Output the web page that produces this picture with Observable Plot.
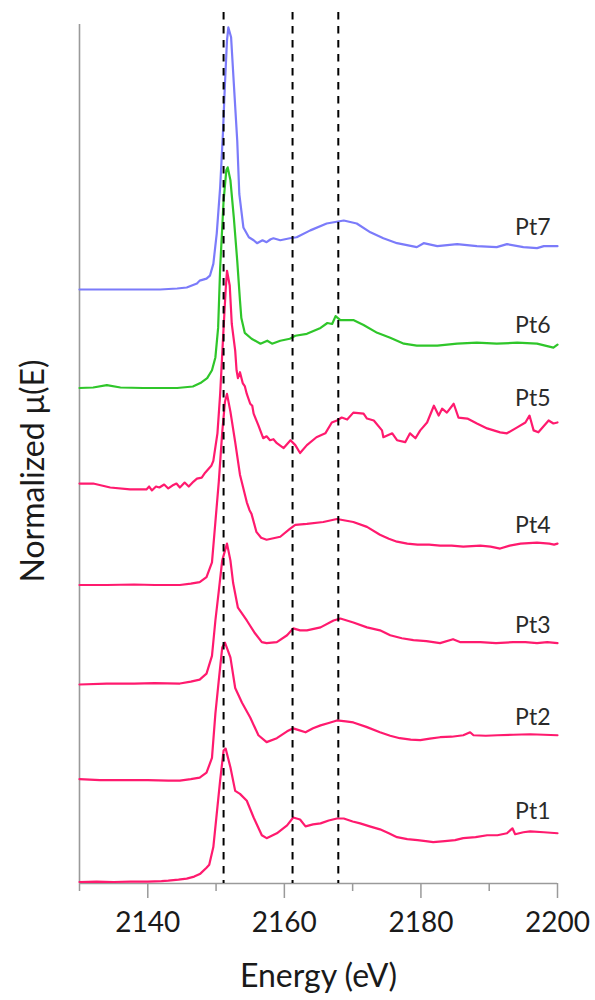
<!DOCTYPE html>
<html>
<head>
<meta charset="utf-8">
<script src="https://cdn.jsdelivr.net/npm/d3@7"></script>
<script src="https://cdn.jsdelivr.net/npm/@observablehq/plot@0.6"></script>
<style>
  body { margin: 0; background: #fff; }
  #chart { width: 595px; height: 1000px; }
</style>
</head>
<body>
<div id="chart"></div>
<script>
// Pt L-edge XANES spectra, normalized and stacked (offset of 1 between traces)
const labels = ["Pt1", "Pt2", "Pt3", "Pt4", "Pt5", "Pt6", "Pt7"];
const offsets = [0, 1, 2, 3, 4, 5, 6];

// [energy (eV), normalized mu(E)]
const pt1 = [[2130,-0.015],[2132.5,-0.01],[2135,-0.015],[2137.5,-0.01],[2140,-0.01],[2142,-0.005],[2143,0],[2144.5,0.01],[2145.7,0.02],[2146.8,0.04],[2147.7,0.07],[2148.6,0.13],[2149.0,0.16],[2149.6,0.34],[2150.1,0.68],[2150.6,1.02],[2151.1,1.32],[2151.4,1.34],[2152.1,1.15],[2152.8,0.91],[2153.5,0.88],[2154.5,0.81],[2155.5,0.64],[2156.7,0.46],[2157.4,0.43],[2158.9,0.48],[2160.4,0.56],[2161.3,0.64],[2162.3,0.62],[2163.1,0.55],[2164.2,0.57],[2165.3,0.58],[2166.5,0.61],[2167.7,0.63],[2168.7,0.63],[2170.0,0.60],[2171.1,0.58],[2172.5,0.55],[2174.0,0.52],[2175.3,0.48],[2176.5,0.44],[2178.0,0.42],[2179.5,0.41],[2180.7,0.40],[2181.8,0.39],[2183.5,0.40],[2185.0,0.41],[2186.2,0.43],[2188.0,0.44],[2189.7,0.46],[2191.2,0.46],[2192.6,0.48],[2193.4,0.53],[2193.8,0.47],[2195.0,0.49],[2196.0,0.50],[2198.0,0.49],[2200,0.48]];
const pt2 = [[2130,0.03],[2133,0.02],[2136,0.02],[2140,0.02],[2143,0.015],[2144.7,0.015],[2146.3,0.03],[2147.6,0.045],[2148.6,0.095],[2149.4,0.245],[2149.9,0.695],[2150.4,1.035],[2150.9,1.365],[2151.3,1.415],[2152.1,1.265],[2152.8,0.955],[2153.8,0.805],[2155.0,0.655],[2156.2,0.475],[2157.4,0.405],[2158.9,0.445],[2160.4,0.515],[2161.3,0.545],[2162.0,0.53],[2163.1,0.505],[2164.2,0.545],[2165.3,0.575],[2166.5,0.60],[2167.7,0.625],[2169.0,0.615],[2170.1,0.605],[2172.0,0.56],[2174.0,0.505],[2175.5,0.47],[2176.9,0.445],[2178.5,0.43],[2179.9,0.425],[2181.3,0.44],[2182.8,0.455],[2184.5,0.46],[2186.2,0.475],[2187.2,0.505],[2187.7,0.475],[2189.5,0.47],[2191.2,0.475],[2193.5,0.48],[2196.0,0.485],[2198.0,0.48],[2200,0.475]];
const pt3 = [[2130,-0.01],[2134,0],[2138,0],[2141,0.005],[2144.7,0],[2146.3,0.02],[2147.6,0.04],[2148.6,0.10],[2149.4,0.28],[2149.9,0.64],[2150.4,0.94],[2150.9,1.25],[2151.6,1.42],[2152.1,1.25],[2152.5,1.02],[2153.2,0.77],[2154.5,0.64],[2155.7,0.51],[2156.7,0.42],[2157.4,0.41],[2158.9,0.42],[2160.4,0.49],[2161.3,0.56],[2162.3,0.54],[2163.3,0.54],[2165.3,0.57],[2167.2,0.64],[2168.2,0.66],[2170.1,0.62],[2172.1,0.57],[2174.0,0.54],[2175.5,0.49],[2177.2,0.46],[2178.9,0.44],[2180.8,0.43],[2182.8,0.41],[2184.7,0.45],[2185.8,0.42],[2188.7,0.42],[2191.0,0.41],[2193.5,0.42],[2195.3,0.42],[2197.0,0.41],[2198.5,0.42],[2200,0.41]];
const pt4 = [[2130,0],[2134,0],[2138,0.005],[2141,0],[2144.7,0],[2146.3,0.015],[2147.6,0.03],[2148.6,0.08],[2149.4,0.23],[2149.9,0.64],[2150.4,1.05],[2150.9,1.55],[2151.3,1.86],[2151.6,1.94],[2152.1,1.76],[2152.8,1.45],[2153.5,1.12],[2154.5,0.84],[2154.9,0.76],[2155.2,0.72],[2155.9,0.54],[2156.6,0.48],[2157.4,0.46],[2159.4,0.49],[2160.8,0.57],[2161.6,0.61],[2163.3,0.62],[2165.7,0.64],[2167.7,0.67],[2170.1,0.64],[2172.1,0.59],[2174.0,0.51],[2175.3,0.47],[2176.5,0.44],[2178.0,0.42],[2179.5,0.41],[2181.2,0.41],[2182.8,0.40],[2184.5,0.40],[2186.2,0.39],[2188.7,0.40],[2190.2,0.39],[2191.6,0.37],[2193.0,0.40],[2194.6,0.42],[2197.0,0.43],[2198.8,0.42],[2199.5,0.41],[2200,0.42]];
const pt5 = [[2130,0.03],[2132,0.03],[2134.5,-0.01],[2137.4,-0.03],[2139.8,-0.03],[2140.2,0.0],[2140.6,-0.04],[2141.2,0.0],[2141.7,-0.01],[2142.4,0.02],[2143.0,-0.02],[2143.6,0.01],[2144.2,0.03],[2144.7,-0.01],[2145.4,0.04],[2146.0,0.0],[2146.7,0.05],[2147.2,0.08],[2147.9,0.09],[2148.4,0.14],[2149.3,0.21],[2149.6,0.26],[2150.2,0.54],[2150.6,0.94],[2151.1,1.61],[2151.4,1.99],[2151.6,2.19],[2152.0,2.04],[2152.3,1.65],[2152.8,1.38],[2153.0,1.18],[2153.2,1.10],[2153.5,1.16],[2153.9,1.05],[2154.2,1.02],[2154.5,0.94],[2155.0,0.84],[2155.3,0.82],[2155.5,0.74],[2156.2,0.62],[2156.9,0.49],[2157.4,0.51],[2157.9,0.47],[2158.4,0.48],[2158.9,0.44],[2159.9,0.39],[2160.9,0.47],[2161.6,0.42],[2162.3,0.34],[2163.3,0.42],[2164.7,0.50],[2166.0,0.54],[2166.95,0.65],[2167.7,0.67],[2168.4,0.70],[2169.2,0.68],[2170.1,0.75],[2171.6,0.74],[2172.1,0.69],[2173.1,0.67],[2174.3,0.57],[2174.5,0.50],[2175.8,0.54],[2176.5,0.47],[2177.7,0.45],[2178.4,0.54],[2179.2,0.49],[2179.9,0.57],[2180.9,0.65],[2181.9,0.82],[2182.6,0.72],[2183.1,0.79],[2183.8,0.75],[2184.8,0.84],[2185.5,0.70],[2186.8,0.69],[2188.2,0.64],[2189.7,0.59],[2191.6,0.55],[2192.6,0.54],[2194.1,0.60],[2195.3,0.65],[2195.9,0.72],[2196.5,0.57],[2197.2,0.55],[2198.7,0.67],[2199.4,0.64],[2200,0.65]];
const pt6 = [[2130,0],[2132,0.005],[2134,0.03],[2136,0.005],[2139.3,0],[2141.8,0],[2144.3,0],[2146.6,0.015],[2147.7,0.05],[2148.7,0.10],[2149.4,0.18],[2149.9,0.31],[2150.3,0.61],[2150.6,1.22],[2151.1,1.90],[2151.5,2.21],[2151.7,2.24],[2152.1,2.11],[2152.6,1.73],[2153.1,1.29],[2153.5,0.89],[2153.7,0.71],[2154.2,0.56],[2155.2,0.50],[2156.5,0.45],[2157.5,0.48],[2158.2,0.45],[2159.4,0.48],[2160.8,0.50],[2161.6,0.53],[2163.3,0.55],[2165.3,0.61],[2166.3,0.66],[2167.0,0.65],[2167.5,0.73],[2168.2,0.69],[2170.1,0.69],[2171.6,0.64],[2173.6,0.56],[2175.5,0.51],[2177.5,0.45],[2179.4,0.43],[2182.4,0.43],[2185.3,0.45],[2188.2,0.46],[2191.1,0.45],[2194.1,0.46],[2197.0,0.45],[2199.4,0.41],[2200,0.44]];
const pt7 = [[2130,0],[2135,0],[2141.8,0],[2144.3,0.01],[2145.7,0.02],[2147.2,0.06],[2147.6,0.09],[2148.6,0.11],[2149.1,0.14],[2149.6,0.26],[2150.1,0.57],[2150.6,1.04],[2151.0,1.58],[2151.3,2.09],[2151.6,2.53],[2151.8,2.66],[2152.2,2.56],[2152.6,2.09],[2153.1,1.51],[2153.4,0.97],[2154.0,0.63],[2154.8,0.53],[2155.5,0.50],[2156.0,0.47],[2156.8,0.50],[2157.4,0.48],[2158.0,0.51],[2158.4,0.52],[2159.4,0.50],[2160.8,0.52],[2161.8,0.53],[2163.8,0.60],[2166.2,0.67],[2168.7,0.70],[2170.6,0.67],[2172.6,0.58],[2174.5,0.52],[2176.5,0.47],[2179.4,0.43],[2180.4,0.47],[2182.4,0.44],[2185.3,0.46],[2188.2,0.44],[2191.1,0.43],[2192.6,0.46],[2195.0,0.43],[2197.0,0.42],[2198.0,0.44],[2200,0.44]];

const series = [pt1, pt2, pt3, pt4, pt5, pt6, pt7];
const energyTicks = [2140, 2160, 2180, 2200];
const minorTicks = [2130, 2150, 2170, 2190];
const featureEnergies = [2151.1, 2161.2, 2167.9];

// drawing styles
const traceColors = ["#ff1a6e", "#ff1a6e", "#ff1a6e", "#ff1a6e", "#ff1a6e", "#2fc62a", "#7b7bfa"];
const xDomain = [2130, 2200];
const yDomain = [-0.03, 8.69];
const font = "Lato, 'Open Sans', sans-serif";

const rows = series.flatMap((s, i) =>
  s.map(([energy, mu]) => ({label: labels[i], energy, mu: mu + offsets[i]})));

// each name sits just above the tail of its trace
const tails = labels.map((label, i) => ({
  label,
  energy: xDomain[1],
  mu: d3.max(series[i].filter(d => d[0] >= 2188), d => d[1]) + offsets[i]
}));

const chart = Plot.plot({
  width: 595,
  height: 1000,
  marginTop: 24,
  marginBottom: 117,
  marginLeft: 79,
  marginRight: 38,
  style: {fontFamily: font, background: "#fff", overflow: "visible"},
  x: {domain: xDomain, label: null},
  y: {domain: yDomain, axis: null, label: null},
  color: {domain: labels, range: traceColors},
  marks: [
    Plot.ruleX([xDomain[0]], {stroke: "#9a9a9a", strokeWidth: 1.6}),
    Plot.ruleY([yDomain[0]], {stroke: "#9a9a9a", strokeWidth: 1.6}),
    Plot.axisX({ticks: minorTicks, tickSize: 8, tickFormat: () => "", stroke: "#9a9a9a", strokeWidth: 1.5, label: null}),
    Plot.axisX({ticks: energyTicks, tickSize: 15, tickPadding: 14, tickFormat: d => `${d}`,
      stroke: "#9a9a9a", strokeWidth: 1.5, fill: "#1a1a1a", fontSize: 28, label: null}),
    Plot.line(rows, {x: "energy", y: "mu", z: "label", stroke: "label", strokeWidth: 2.2}),
    Plot.ruleX(featureEnergies, {stroke: "#000", strokeWidth: 2, strokeDasharray: "7.5,6.5", insetTop: -12}),
    Plot.text(tails, {x: "energy", y: "mu", text: "label", textAnchor: "end", dx: -7, dy: -17,
      fontSize: 23, fill: "#2a2a2a"}),
    Plot.text(["Energy (eV)"], {frameAnchor: "bottom", dy: 103, fontSize: 32, fill: "#1a1a1a"}),
    Plot.text(["Normalized μ(E)"], {frameAnchor: "left", textAnchor: "middle", rotate: -90, dx: -46, dy: 17,
      fontSize: 32, fill: "#1a1a1a"})
  ]
});

document.getElementById("chart").appendChild(chart);
</script>
</body>
</html>
